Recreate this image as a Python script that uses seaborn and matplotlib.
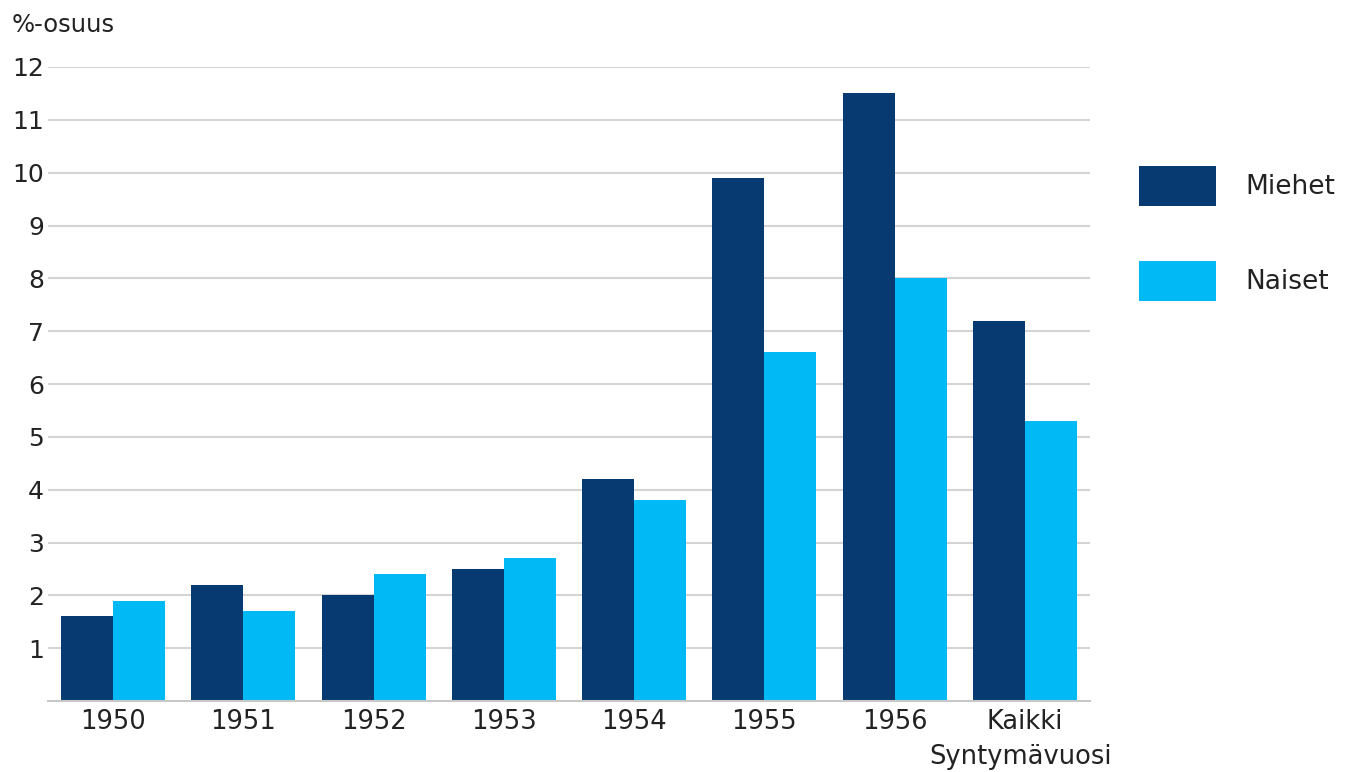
import matplotlib
matplotlib.use("Agg")
import matplotlib.pyplot as plt
import seaborn as sns
import pandas as pd
from matplotlib.patches import Patch

categories = ["1950", "1951", "1952", "1953", "1954", "1955", "1956", "Kaikki"]
miehet = [1.6, 2.2, 2.0, 2.5, 4.2, 9.9, 11.5, 7.2]
naiset = [1.9, 1.7, 2.4, 2.7, 3.8, 6.6, 8.0, 5.3]
series = ["Miehet", "Naiset"]
colors = ["#063a70", "#00b9f5"]
yticks = list(range(1, 13))

df = pd.DataFrame({
    "cat": categories * 2,
    "val": miehet + naiset,
    "sex": [series[0]] * len(categories) + [series[1]] * len(categories),
})

sns.set_theme(style="white")
plt.rcParams["font.family"] = ["DejaVu Sans"]

fig = plt.figure(figsize=(13.54, 7.72), dpi=100)
ax = fig.add_axes([48 / 1354, 1 - 701 / 772, (1090 - 48) / 1354, (701 - 67) / 772])

sns.barplot(data=df, x="cat", y="val", hue="sex", palette=colors, ax=ax,
            width=0.8, saturation=1, legend=False, linewidth=0)

ax.set_xlim(-0.5, len(categories) - 0.5)
ax.set_ylim(0, 12)
ax.set_yticks(yticks)
ax.set_yticklabels([str(t) for t in yticks])
ax.set_axisbelow(True)
ax.yaxis.grid(True, color="#d4d4d4", linewidth=1.5)
ax.xaxis.grid(False)
for s in ["top", "right", "left"]:
    ax.spines[s].set_visible(False)
ax.spines["bottom"].set_color("#c8c8c8")
ax.spines["bottom"].set_linewidth(1.5)
ax.tick_params(axis="both", length=0, labelsize=18, colors="#222222", pad=6)
ax.tick_params(axis="x", labelsize=18.5)
ax.tick_params(axis="y", pad=3)
ax.set_xlabel("")
ax.set_ylabel("")

fig.text(12 / 1354, 1 - 25 / 772, "%-osuus", fontsize=17.5, color="#222222",
         ha="left", va="center")
fig.text(1112 / 1354, 1 - 757 / 772, "Syntymävuosi", fontsize=18.5, color="#222222",
         ha="right", va="center")

handles = [Patch(facecolor=c, edgecolor="none") for c in colors]
fig.legend(handles, series, loc="upper left",
           bbox_to_anchor=(1139 / 1354, 1 - 166 / 772),
           frameon=False, fontsize=19, handlelength=2.92, handleheight=1.94,
           handletextpad=1.1, labelspacing=2.1, borderpad=0, borderaxespad=0,
           labelcolor="#222222")

fig.savefig("out.png", dpi=100, facecolor="white")
